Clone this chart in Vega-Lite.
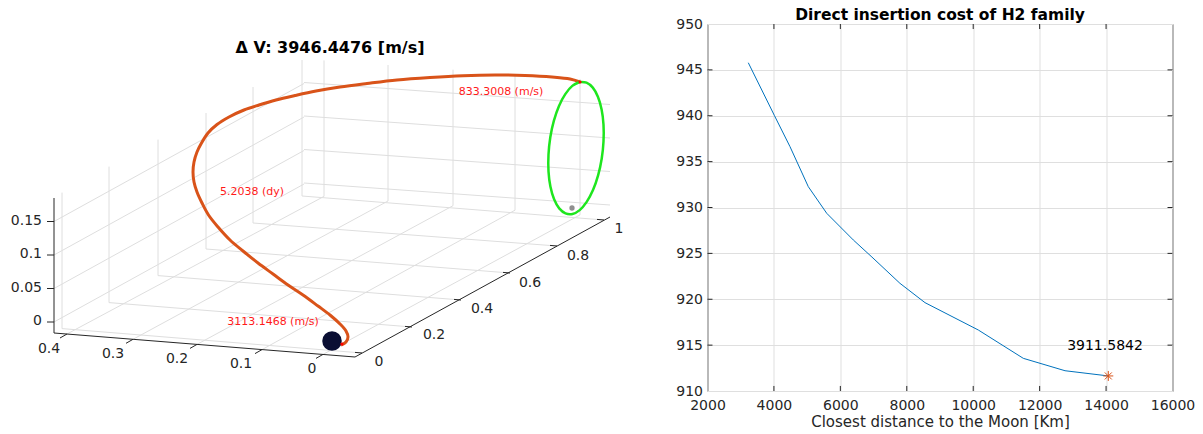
{
  "$schema": "https://vega.github.io/schema/vega-lite/v6.json",
  "padding": {"top": 7, "left": 0, "right": 0, "bottom": 0},
  "background": "white",
  "spacing": 34.5,
  "config": {"view": {"stroke": null}, "font": "DejaVu Sans"},
  "datasets": {
    "grid3d": [
      {"u1":62,"v1":192.6,"u2":62,"v2":328.6},{"u1":109,"v1":166.6,"u2":109,"v2":302.6},{"u1":158,"v1":139.6,"u2":158,"v2":275.6},{"u1":206,"v1":113,"u2":206,"v2":249},{"u1":253,"v1":87,"u2":253,"v2":223},{"u1":302,"v1":60,"u2":302,"v2":196},
      {"u1":54,"v1":322,"u2":304,"v2":184},{"u1":54,"v1":288.5,"u2":304,"v2":150.5},{"u1":54,"v1":255,"u2":304,"v2":117},{"u1":54,"v1":221.5,"u2":304,"v2":83.5},
      {"u1":324,"v1":60.4,"u2":324,"v2":196.4},{"u1":388,"v1":65,"u2":388,"v2":201},{"u1":453,"v1":69.7,"u2":453,"v2":205.7},{"u1":515,"v1":74.2,"u2":515,"v2":210.2},{"u1":580,"v1":78.9,"u2":580,"v2":214.9},
      {"u1":304,"v1":82.5,"u2":610,"v2":104.5},{"u1":304,"v1":116,"u2":610,"v2":138},{"u1":304,"v1":149.5,"u2":610,"v2":171.5},{"u1":304,"v1":183,"u2":610,"v2":205},
      {"u1":67,"v1":334,"u2":324,"v2":196.4},{"u1":133,"v1":339.3,"u2":388,"v2":201},{"u1":197,"v1":344.4,"u2":453,"v2":205.7},{"u1":262,"v1":349.6,"u2":515,"v2":210.2},{"u1":323,"v1":354.4,"u2":580,"v2":214.9},
      {"u1":62,"v1":328.6,"u2":362,"v2":353},{"u1":109,"v1":302.6,"u2":412,"v2":327},{"u1":158,"v1":275.6,"u2":461,"v2":300},{"u1":206,"v1":249,"u2":510,"v2":273},{"u1":253,"v1":223,"u2":557,"v2":246},{"u1":302,"v1":196,"u2":604,"v2":220}
    ],
    "axes3d": [
      {"u1":54,"v1":198,"u2":54,"v2":333},{"u1":54,"v1":333,"u2":355,"v2":357},{"u1":355,"v1":357,"u2":610,"v2":217},
      {"u1":47,"v1":221.5,"u2":54,"v2":221.5},{"u1":47,"v1":255,"u2":54,"v2":255},{"u1":47,"v1":288.5,"u2":54,"v2":288.5},{"u1":47,"v1":322,"u2":54,"v2":322},
      {"u1":67,"v1":334,"u2":60,"v2":338},{"u1":133,"v1":339.3,"u2":126,"v2":343.3},{"u1":197,"v1":344.4,"u2":190,"v2":348.4},{"u1":262,"v1":349.6,"u2":255,"v2":353.6},{"u1":323,"v1":354.4,"u2":316,"v2":358.4},
      {"u1":362,"v1":353,"u2":355,"v2":352.4},{"u1":412,"v1":327,"u2":405,"v2":326.4},{"u1":461,"v1":300,"u2":454,"v2":299.4},{"u1":510,"v1":273,"u2":503,"v2":272.4},{"u1":557,"v1":246,"u2":550,"v2":245.4},{"u1":604,"v1":220,"u2":597,"v2":219.4}
    ],
    "zlabels": [
      {"u":42,"v":221,"t":"0.15"},{"u":42,"v":254,"t":"0.1"},{"u":42,"v":288,"t":"0.05"},{"u":42,"v":321,"t":"0"}
    ],
    "xylabels": [
      {"u":49,"v":349,"t":"0.4"},{"u":113,"v":354,"t":"0.3"},{"u":177,"v":359,"t":"0.2"},{"u":241,"v":364,"t":"0.1"},{"u":312,"v":369,"t":"0"},
      {"u":379,"v":362,"t":"0"},{"u":434,"v":335,"t":"0.2"},{"u":482,"v":309,"t":"0.4"},{"u":530,"v":283,"t":"0.6"},{"u":578,"v":256,"t":"0.8"},{"u":619,"v":229,"t":"1"}
    ],
    "traj": [
      {"i":1,"u":341,"v":345},{"i":2,"u":346,"v":342},{"i":3,"u":348,"v":337},{"i":4,"u":346,"v":331},{"i":5,"u":340,"v":324},
      {"i":6,"u":330,"v":315},{"i":7,"u":318,"v":306},{"i":8,"u":303,"v":295},{"i":9,"u":288,"v":285},{"i":10,"u":273,"v":274},
      {"i":11,"u":258,"v":263},{"i":12,"u":243,"v":251},{"i":13,"u":230,"v":240},{"i":14,"u":218,"v":227},{"i":15,"u":208.5,"v":215},
      {"i":16,"u":202,"v":203},{"i":17,"u":197,"v":192},{"i":18,"u":194,"v":182},{"i":19,"u":193,"v":172},{"i":20,"u":194,"v":162},
      {"i":21,"u":197,"v":152},{"i":22,"u":201.5,"v":143},{"i":23,"u":208,"v":133},{"i":24,"u":217,"v":124.5},{"i":25,"u":229,"v":117},
      {"i":26,"u":244,"v":110},{"i":27,"u":259,"v":105},{"i":28,"u":276,"v":100},{"i":29,"u":295,"v":95.5},{"i":30,"u":316,"v":91},
      {"i":31,"u":340,"v":87},{"i":32,"u":367,"v":83.5},{"i":33,"u":397,"v":80},{"i":34,"u":430,"v":77.5},{"i":35,"u":463,"v":75.7},
      {"i":36,"u":495,"v":75},{"i":37,"u":525,"v":75.5},{"i":38,"u":552,"v":77},{"i":39,"u":570,"v":79},{"i":40,"u":580,"v":82}
    ],
    "orbit": [
      {"i":0,"u":579.5,"v":82},{"i":1,"u":586.5,"v":82.6},{"i":2,"u":592.8,"v":87.6},{"i":3,"u":597.9,"v":96.7},{"i":4,"u":601.6,"v":109.4},
      {"i":5,"u":603.5,"v":124.6},{"i":6,"u":603.5,"v":141.5},{"i":7,"u":601.7,"v":158.8},{"i":8,"u":598.1,"v":175.4},{"i":9,"u":593.0,"v":190.1},
      {"i":10,"u":586.7,"v":201.9},{"i":11,"u":579.7,"v":210.1},{"i":12,"u":572.5,"v":214},{"i":13,"u":565.5,"v":213.4},{"i":14,"u":559.2,"v":208.4},
      {"i":15,"u":554.1,"v":199.3},{"i":16,"u":550.4,"v":186.6},{"i":17,"u":548.5,"v":171.4},{"i":18,"u":548.5,"v":154.5},{"i":19,"u":550.3,"v":137.2},
      {"i":20,"u":553.9,"v":120.6},{"i":21,"u":559.0,"v":105.9},{"i":22,"u":565.3,"v":94.1},{"i":23,"u":572.3,"v":85.9},{"i":24,"u":579.5,"v":82}
    ],
    "earth": [{"u":332,"v":341}],
    "moonpt": [{"u":572,"v":208}],
    "redpts": [{"u":342,"v":344},{"u":580,"v":82}],
    "notes": [
      {"u":501,"v":92,"t":"833.3008 (m/s)"},{"u":252,"v":192,"t":"5.2038 (dy)"},{"u":273,"v":322,"t":"3113.1468 (m/s)"}
    ],
    "cost": [
      {"d":3228,"c":945.78},{"d":4011,"c":940.05},{"d":4484,"c":936.63},{"d":5035,"c":932.27},{"d":5589,"c":929.37},
      {"d":6390,"c":926.46},{"d":6950,"c":924.6},{"d":7793,"c":921.74},{"d":8548,"c":919.63},{"d":10153,"c":916.65},
      {"d":11508,"c":913.56},{"d":12764,"c":912.21},{"d":14067,"c":911.64}
    ],
    "best": [{"d":14067,"c":911.64}],
    "bestlabel": [{"d":13968,"c":914.9,"t":"3911.5842"}],
    "ytk": [{"c":915},{"c":920},{"c":925},{"c":930},{"c":935},{"c":940},{"c":945}],
    "xtk": [{"d":4000},{"d":6000},{"d":8000},{"d":10000},{"d":12000},{"d":14000}]
  },
  "hconcat": [
    {
      "width": 640,
      "height": 410,
      "title": {"text": "Δ V: 3946.4476 [m/s]", "offset": -32, "fontSize": 16, "fontWeight": "bold", "color": "black", "anchor": "middle", "frame": "group", "dx": 10},
      "layer": [
        {
          "data": {"name": "grid3d"},
          "mark": {"type": "rule", "color": "#dedede", "strokeWidth": 1},
          "encoding": {
            "x": {"field": "u1", "type": "quantitative", "scale": {"domain": [0, 640], "nice": false, "zero": false}, "axis": null},
            "y": {"field": "v1", "type": "quantitative", "scale": {"domain": [24, 434], "nice": false, "zero": false, "reverse": true}, "axis": null},
            "x2": {"field": "u2"},
            "y2": {"field": "v2"}
          }
        },
        {
          "data": {"name": "axes3d"},
          "mark": {"type": "rule", "color": "#262626", "strokeWidth": 1},
          "encoding": {
            "x": {"field": "u1", "type": "quantitative"},
            "y": {"field": "v1", "type": "quantitative"},
            "x2": {"field": "u2"},
            "y2": {"field": "v2"}
          }
        },
        {
          "data": {"name": "zlabels"},
          "mark": {"type": "text", "align": "right", "baseline": "middle", "fontSize": 14, "color": "#262626"},
          "encoding": {
            "x": {"field": "u", "type": "quantitative"},
            "y": {"field": "v", "type": "quantitative"},
            "text": {"field": "t"}
          }
        },
        {
          "data": {"name": "xylabels"},
          "mark": {"type": "text", "align": "center", "baseline": "middle", "fontSize": 14, "color": "#262626"},
          "encoding": {
            "x": {"field": "u", "type": "quantitative"},
            "y": {"field": "v", "type": "quantitative"},
            "text": {"field": "t"}
          }
        },
        {
          "data": {"name": "earth"},
          "mark": {"type": "point", "filled": true, "opacity": 1, "size": 380, "color": "#0a0e33"},
          "encoding": {
            "x": {"field": "u", "type": "quantitative"},
            "y": {"field": "v", "type": "quantitative"}
          }
        },
        {
          "data": {"name": "traj"},
          "mark": {"type": "line", "color": "#D95319", "strokeWidth": 3, "interpolate": "catmull-rom"},
          "encoding": {
            "x": {"field": "u", "type": "quantitative"},
            "y": {"field": "v", "type": "quantitative"},
            "order": {"field": "i", "type": "quantitative"}
          }
        },
        {
          "data": {"name": "orbit"},
          "mark": {"type": "line", "color": "#1ee61e", "strokeWidth": 2.5, "interpolate": "catmull-rom"},
          "encoding": {
            "x": {"field": "u", "type": "quantitative"},
            "y": {"field": "v", "type": "quantitative"},
            "order": {"field": "i", "type": "quantitative"}
          }
        },
        {
          "data": {"name": "moonpt"},
          "mark": {"type": "point", "filled": true, "opacity": 1, "size": 28, "color": "#8f8f8f"},
          "encoding": {
            "x": {"field": "u", "type": "quantitative"},
            "y": {"field": "v", "type": "quantitative"}
          }
        },
        {
          "data": {"name": "redpts"},
          "mark": {"type": "point", "filled": true, "opacity": 1, "size": 10, "color": "#ff0000"},
          "encoding": {
            "x": {"field": "u", "type": "quantitative"},
            "y": {"field": "v", "type": "quantitative"}
          }
        },
        {
          "data": {"name": "notes"},
          "mark": {"type": "text", "align": "center", "baseline": "middle", "fontSize": 11, "color": "#ff1a1a"},
          "encoding": {
            "x": {"field": "u", "type": "quantitative"},
            "y": {"field": "v", "type": "quantitative"},
            "text": {"field": "t"}
          }
        }
      ]
    },
    {
      "width": 465,
      "height": 367,
      "view": {"stroke": "#262626", "strokeWidth": 1},
      "title": {"text": "Direct insertion cost of H2 family", "fontSize": 15.5, "fontWeight": "bold", "color": "black", "anchor": "middle", "frame": "group", "offset": -6},
      "layer": [
        {
          "data": {"name": "cost"},
          "mark": {"type": "line", "color": "#0072BD", "strokeWidth": 1},
          "encoding": {
            "x": {"field": "d", "type": "quantitative", "scale": {"domain": [2000, 16000], "nice": false, "zero": false},
              "axis": {"values": [2000, 4000, 6000, 8000, 10000, 12000, 14000, 16000], "format": "d", "grid": true, "gridColor": "#dfdfdf", "ticks": false, "domain": false, "labelColor": "#262626", "labelFontSize": 14, "labelPadding": 7, "labelFlush": false, "labelOverlap": false, "title": "Closest distance to the Moon [Km]", "titleFontSize": 15, "titleFontWeight": "normal", "titleColor": "#262626", "titlePadding": 2}},
            "y": {"field": "c", "type": "quantitative", "scale": {"domain": [910, 950], "nice": false, "zero": false},
              "axis": {"values": [910, 915, 920, 925, 930, 935, 940, 945, 950], "format": "d", "grid": true, "gridColor": "#dfdfdf", "ticks": false, "domain": false, "labelColor": "#262626", "labelFontSize": 14, "labelPadding": 5, "labelFlush": false, "labelOverlap": false, "title": null}},
            "order": {"field": "d", "type": "quantitative"}
          }
        },
        {
          "data": {"name": "ytk"},
          "mark": {"type": "rule", "color": "#262626", "strokeWidth": 1},
          "encoding": {"y": {"field": "c", "type": "quantitative"}, "x": {"datum": 2000}, "x2": {"datum": 2150}}
        },
        {
          "data": {"name": "ytk"},
          "mark": {"type": "rule", "color": "#262626", "strokeWidth": 1},
          "encoding": {"y": {"field": "c", "type": "quantitative"}, "x": {"datum": 15850}, "x2": {"datum": 16000}}
        },
        {
          "data": {"name": "xtk"},
          "mark": {"type": "rule", "color": "#262626", "strokeWidth": 1},
          "encoding": {"x": {"field": "d", "type": "quantitative"}, "y": {"datum": 910}, "y2": {"datum": 910.55}}
        },
        {
          "data": {"name": "xtk"},
          "mark": {"type": "rule", "color": "#262626", "strokeWidth": 1},
          "encoding": {"x": {"field": "d", "type": "quantitative"}, "y": {"datum": 949.45}, "y2": {"datum": 950}}
        },
        {
          "data": {"name": "best"},
          "mark": {"type": "point", "shape": "M-1,0L1,0M0,-1L0,1M-0.7,-0.7L0.7,0.7M-0.7,0.7L0.7,-0.7", "filled": false, "size": 100, "strokeWidth": 1, "color": "#D95319", "opacity": 1},
          "encoding": {"x": {"field": "d", "type": "quantitative"}, "y": {"field": "c", "type": "quantitative"}}
        },
        {
          "data": {"name": "bestlabel"},
          "mark": {"type": "text", "align": "center", "baseline": "middle", "fontSize": 14, "color": "#000000"},
          "encoding": {"x": {"field": "d", "type": "quantitative"}, "y": {"field": "c", "type": "quantitative"}, "text": {"field": "t"}}
        }
      ]
    }
  ]
}
